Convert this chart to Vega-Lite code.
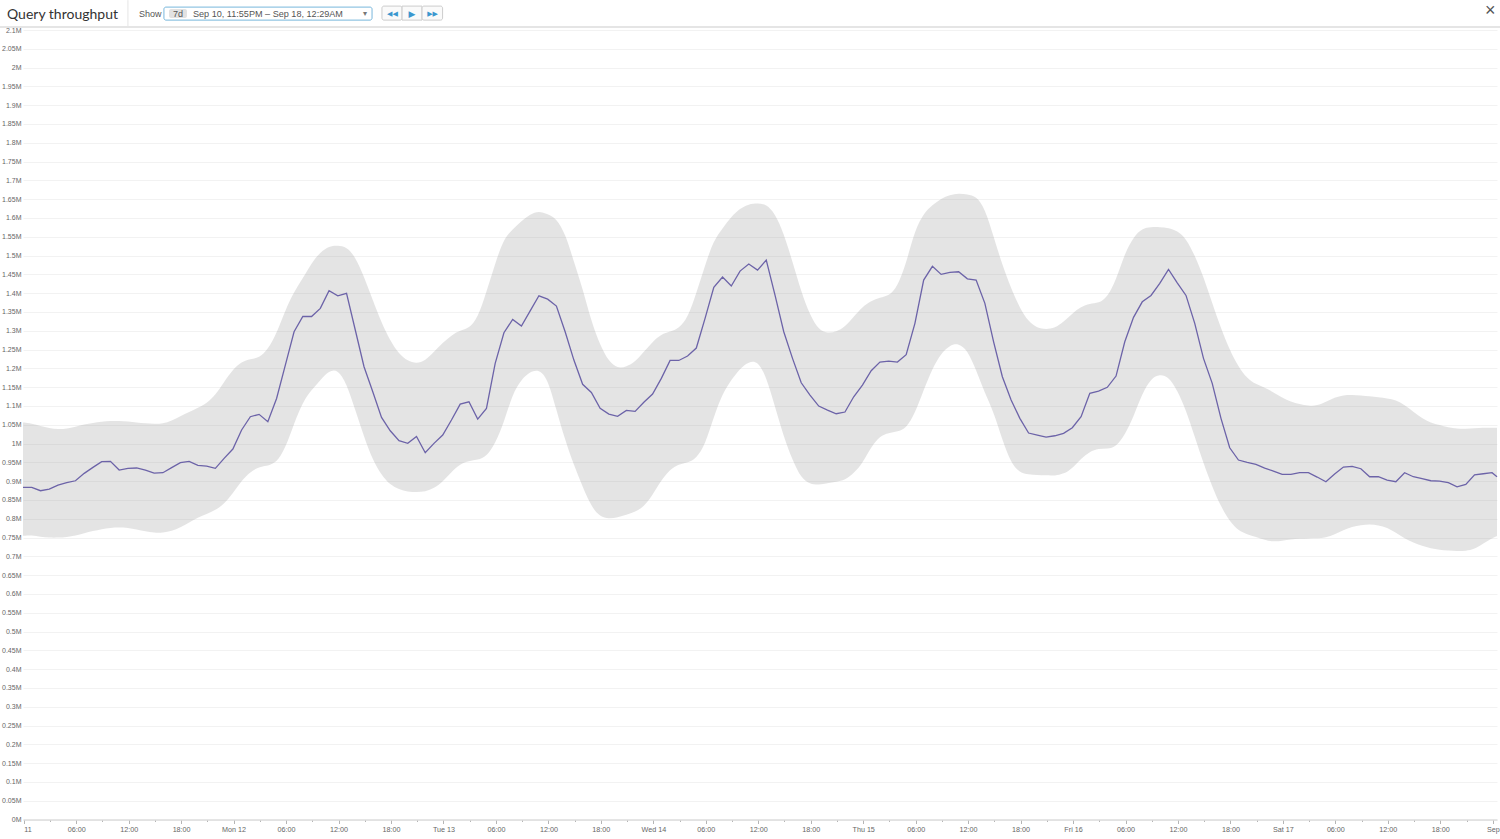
{
"$schema":"https://vega.github.io/schema/vega-lite/v6.json",
"width":1474,"height":789.5,
"autosize":"none",
"padding":{"left":23,"top":30,"right":3,"bottom":19.5},
"background":"#ffffff",
"title":{"text":"Query throughput","anchor":"start","frame":"group","dx":-16,"offset":-22,"fontSize":14,"font":"Lato","fontWeight":"normal","color":"#333333"},
"config":{"view":{"stroke":null},"text":{"font":"Liberation Sans"}},
"resolve":{"axis":{"x":"independent","y":"independent"}},
"datasets":{"metrics":[
{"t":"2016-09-10T23:55","v":883500,"lo":754700,"hi":1056300},
{"t":"2016-09-11T00:55","v":883500,"lo":756600,"hi":1053700},
{"t":"2016-09-11T01:55","v":874500,"lo":752100,"hi":1046500},
{"t":"2016-09-11T02:55","v":879000,"lo":749500,"hi":1041200},
{"t":"2016-09-11T03:55","v":889600,"lo":749500,"hi":1037800},
{"t":"2016-09-11T04:55","v":895800,"lo":751300,"hi":1039400},
{"t":"2016-09-11T05:55","v":901000,"lo":754700,"hi":1044700},
{"t":"2016-09-11T06:55","v":920700,"lo":761200,"hi":1051000},
{"t":"2016-09-11T07:55","v":936600,"lo":767300,"hi":1054500},
{"t":"2016-09-11T08:55","v":951700,"lo":772600,"hi":1058000},
{"t":"2016-09-11T09:55","v":952600,"lo":776100,"hi":1060000},
{"t":"2016-09-11T10:55","v":929500,"lo":777100,"hi":1060600},
{"t":"2016-09-11T11:55","v":934000,"lo":776100,"hi":1059000},
{"t":"2016-09-11T12:55","v":935000,"lo":771800,"hi":1056300},
{"t":"2016-09-11T13:55","v":929000,"lo":766500,"hi":1053700},
{"t":"2016-09-11T14:55","v":921500,"lo":762800,"hi":1052000},
{"t":"2016-09-11T15:55","v":922400,"lo":762800,"hi":1052700},
{"t":"2016-09-11T16:55","v":936000,"lo":767300,"hi":1060600},
{"t":"2016-09-11T17:55","v":949000,"lo":777100,"hi":1073100},
{"t":"2016-09-11T18:55","v":952600,"lo":789400,"hi":1083800},
{"t":"2016-09-11T19:55","v":942000,"lo":803700,"hi":1095200},
{"t":"2016-09-11T20:55","v":940000,"lo":812500,"hi":1106900},
{"t":"2016-09-11T21:55","v":934000,"lo":823100,"hi":1129000},
{"t":"2016-09-11T22:55","v":960600,"lo":839100,"hi":1164300},
{"t":"2016-09-11T23:55","v":985400,"lo":867600,"hi":1197300},
{"t":"2016-09-12T00:55","v":1036000,"lo":901100,"hi":1217600},
{"t":"2016-09-12T01:55","v":1071400,"lo":925000,"hi":1225500},
{"t":"2016-09-12T02:55","v":1077600,"lo":938300,"hi":1227400},
{"t":"2016-09-12T03:55","v":1058000,"lo":941000,"hi":1250000},
{"t":"2016-09-12T04:55","v":1120000,"lo":948900,"hi":1293200},
{"t":"2016-09-12T05:55","v":1208800,"lo":987200,"hi":1355000},
{"t":"2016-09-12T06:55","v":1297400,"lo":1053700,"hi":1403700},
{"t":"2016-09-12T07:55","v":1338000,"lo":1111200,"hi":1439400},
{"t":"2016-09-12T08:55","v":1338000,"lo":1142300,"hi":1480800},
{"t":"2016-09-12T09:55","v":1359500,"lo":1168900,"hi":1508500},
{"t":"2016-09-12T10:55","v":1406500,"lo":1193600,"hi":1525300},
{"t":"2016-09-12T11:55","v":1393000,"lo":1197300,"hi":1527100},
{"t":"2016-09-12T12:55","v":1399500,"lo":1160100,"hi":1523400},
{"t":"2016-09-12T13:55","v":1302000,"lo":1089100,"hi":1496800},
{"t":"2016-09-12T14:55","v":1204300,"lo":1018000,"hi":1443600},
{"t":"2016-09-12T15:55","v":1138000,"lo":956100,"hi":1381600},
{"t":"2016-09-12T16:55","v":1069700,"lo":916200,"hi":1321300},
{"t":"2016-09-12T17:55","v":1034000,"lo":889600,"hi":1273400},
{"t":"2016-09-12T18:55","v":1007500,"lo":878200,"hi":1238000},
{"t":"2016-09-12T19:55","v":1000500,"lo":871800,"hi":1219400},
{"t":"2016-09-12T20:55","v":1019000,"lo":871000,"hi":1212200},
{"t":"2016-09-12T21:55","v":975500,"lo":871800,"hi":1220200},
{"t":"2016-09-12T22:55","v":1000500,"lo":880800,"hi":1244100},
{"t":"2016-09-12T23:55","v":1022600,"lo":898400,"hi":1268000},
{"t":"2016-09-13T00:55","v":1062500,"lo":925000,"hi":1287800},
{"t":"2016-09-13T01:55","v":1105000,"lo":945500,"hi":1301100},
{"t":"2016-09-13T02:55","v":1111000,"lo":954300,"hi":1306400},
{"t":"2016-09-13T03:55","v":1065000,"lo":956100,"hi":1333000},
{"t":"2016-09-13T04:55","v":1093600,"lo":964900,"hi":1403700},
{"t":"2016-09-13T05:55","v":1213300,"lo":1000500,"hi":1479300},
{"t":"2016-09-13T06:55","v":1294700,"lo":1055800,"hi":1545700},
{"t":"2016-09-13T07:55","v":1330000,"lo":1133500,"hi":1569700},
{"t":"2016-09-13T08:55","v":1312500,"lo":1170700,"hi":1591800},
{"t":"2016-09-13T09:55","v":1353000,"lo":1191000,"hi":1610400},
{"t":"2016-09-13T10:55","v":1393000,"lo":1197300,"hi":1619100},
{"t":"2016-09-13T11:55","v":1384000,"lo":1173400,"hi":1610400},
{"t":"2016-09-13T12:55","v":1365700,"lo":1089100,"hi":1598900},
{"t":"2016-09-13T13:55","v":1297400,"lo":1009300,"hi":1559000},
{"t":"2016-09-13T14:55","v":1222000,"lo":942800,"hi":1483500},
{"t":"2016-09-13T15:55","v":1157500,"lo":885100,"hi":1412700},
{"t":"2016-09-13T16:55","v":1136000,"lo":831900,"hi":1323900},
{"t":"2016-09-13T17:55","v":1093600,"lo":805300,"hi":1262000},
{"t":"2016-09-13T18:55","v":1078500,"lo":800000,"hi":1217600},
{"t":"2016-09-13T19:55","v":1072300,"lo":803700,"hi":1200000},
{"t":"2016-09-13T20:55","v":1088000,"lo":810600,"hi":1204300},
{"t":"2016-09-13T21:55","v":1085600,"lo":818600,"hi":1217600},
{"t":"2016-09-13T22:55","v":1110000,"lo":831900,"hi":1244100},
{"t":"2016-09-13T23:55","v":1131600,"lo":863000,"hi":1270700},
{"t":"2016-09-14T00:55","v":1173300,"lo":902900,"hi":1291200},
{"t":"2016-09-14T01:55","v":1221000,"lo":931400,"hi":1297300},
{"t":"2016-09-14T02:55","v":1221000,"lo":945500,"hi":1306400},
{"t":"2016-09-14T03:55","v":1232700,"lo":948900,"hi":1333000},
{"t":"2016-09-14T04:55","v":1254000,"lo":960600,"hi":1399500},
{"t":"2016-09-14T05:55","v":1333000,"lo":996000,"hi":1474700},
{"t":"2016-09-14T06:55","v":1415400,"lo":1071300,"hi":1541200},
{"t":"2016-09-14T07:55","v":1442800,"lo":1133500,"hi":1572300},
{"t":"2016-09-14T08:55","v":1419000,"lo":1168900,"hi":1603200},
{"t":"2016-09-14T09:55","v":1458800,"lo":1200000,"hi":1625500},
{"t":"2016-09-14T10:55","v":1477400,"lo":1217600,"hi":1637000},
{"t":"2016-09-14T11:55","v":1461400,"lo":1220200,"hi":1638800},
{"t":"2016-09-14T12:55","v":1488000,"lo":1177700,"hi":1637000},
{"t":"2016-09-14T13:55","v":1395000,"lo":1097900,"hi":1612200},
{"t":"2016-09-14T14:55","v":1297500,"lo":1018100,"hi":1559000},
{"t":"2016-09-14T15:55","v":1226600,"lo":956100,"hi":1483500},
{"t":"2016-09-14T16:55","v":1161700,"lo":907400,"hi":1403700},
{"t":"2016-09-14T17:55","v":1129000,"lo":892300,"hi":1341800},
{"t":"2016-09-14T18:55","v":1099700,"lo":889600,"hi":1301900},
{"t":"2016-09-14T19:55","v":1089000,"lo":894100,"hi":1293100},
{"t":"2016-09-14T20:55","v":1079300,"lo":898400,"hi":1297300},
{"t":"2016-09-14T21:55","v":1083800,"lo":902900,"hi":1310600},
{"t":"2016-09-14T22:55","v":1124500,"lo":920700,"hi":1337200},
{"t":"2016-09-14T23:55","v":1155600,"lo":947300,"hi":1363800},
{"t":"2016-09-15T00:55","v":1193600,"lo":991500,"hi":1379800},
{"t":"2016-09-15T01:55","v":1216800,"lo":1020000,"hi":1388800},
{"t":"2016-09-15T02:55","v":1219400,"lo":1028700,"hi":1392300},
{"t":"2016-09-15T03:55","v":1216800,"lo":1031400,"hi":1417000},
{"t":"2016-09-15T04:55","v":1236200,"lo":1040400,"hi":1479300},
{"t":"2016-09-15T05:55","v":1319700,"lo":1080300,"hi":1567800},
{"t":"2016-09-15T06:55","v":1434800,"lo":1142300,"hi":1612200},
{"t":"2016-09-15T07:55","v":1471300,"lo":1200000,"hi":1634300},
{"t":"2016-09-15T08:55","v":1450000,"lo":1239900,"hi":1652100},
{"t":"2016-09-15T09:55","v":1455300,"lo":1262000,"hi":1661700},
{"t":"2016-09-15T10:55","v":1457000,"lo":1266500,"hi":1665400},
{"t":"2016-09-15T11:55","v":1438300,"lo":1248700,"hi":1662800},
{"t":"2016-09-15T12:55","v":1434800,"lo":1195500,"hi":1658200},
{"t":"2016-09-15T13:55","v":1372900,"lo":1133500,"hi":1625500},
{"t":"2016-09-15T14:55","v":1270700,"lo":1084600,"hi":1550000},
{"t":"2016-09-15T15:55","v":1177700,"lo":1009300,"hi":1474700},
{"t":"2016-09-15T16:55","v":1115700,"lo":947300,"hi":1412700},
{"t":"2016-09-15T17:55","v":1067000,"lo":922400,"hi":1359600},
{"t":"2016-09-15T18:55","v":1028000,"lo":918100,"hi":1323900},
{"t":"2016-09-15T19:55","v":1022600,"lo":916200,"hi":1307200},
{"t":"2016-09-15T20:55","v":1017300,"lo":915400,"hi":1303700},
{"t":"2016-09-15T21:55","v":1020700,"lo":914400,"hi":1307200},
{"t":"2016-09-15T22:55","v":1027000,"lo":918900,"hi":1323900},
{"t":"2016-09-15T23:55","v":1042000,"lo":934000,"hi":1346300},
{"t":"2016-09-16T00:55","v":1071300,"lo":960600,"hi":1363800},
{"t":"2016-09-16T01:55","v":1133500,"lo":978200,"hi":1372900},
{"t":"2016-09-16T02:55","v":1139600,"lo":987200,"hi":1372900},
{"t":"2016-09-16T03:55","v":1149500,"lo":985400,"hi":1388800},
{"t":"2016-09-16T04:55","v":1179500,"lo":991500,"hi":1434800},
{"t":"2016-09-16T05:55","v":1270700,"lo":1022600,"hi":1505800},
{"t":"2016-09-16T06:55","v":1335700,"lo":1071300,"hi":1550000},
{"t":"2016-09-16T07:55","v":1377000,"lo":1133500,"hi":1572300},
{"t":"2016-09-16T08:55","v":1394000,"lo":1173400,"hi":1575800},
{"t":"2016-09-16T09:55","v":1426000,"lo":1184800,"hi":1575800},
{"t":"2016-09-16T10:55","v":1463300,"lo":1177700,"hi":1574000},
{"t":"2016-09-16T11:55","v":1427600,"lo":1142300,"hi":1566000},
{"t":"2016-09-16T12:55","v":1394000,"lo":1089100,"hi":1545700},
{"t":"2016-09-16T13:55","v":1319700,"lo":1018100,"hi":1501300},
{"t":"2016-09-16T14:55","v":1226600,"lo":947300,"hi":1443600},
{"t":"2016-09-16T15:55","v":1160000,"lo":885100,"hi":1372900},
{"t":"2016-09-16T16:55","v":1067000,"lo":831900,"hi":1306400},
{"t":"2016-09-16T17:55","v":988800,"lo":793000,"hi":1248700},
{"t":"2016-09-16T18:55","v":956100,"lo":768000,"hi":1204300},
{"t":"2016-09-16T19:55","v":950000,"lo":758500,"hi":1173400},
{"t":"2016-09-16T20:55","v":944600,"lo":752100,"hi":1157400},
{"t":"2016-09-16T21:55","v":934900,"lo":743400,"hi":1149500},
{"t":"2016-09-16T22:55","v":926800,"lo":738800,"hi":1136200},
{"t":"2016-09-16T23:55","v":918000,"lo":741500,"hi":1121800},
{"t":"2016-09-17T00:55","v":918000,"lo":745200,"hi":1111200},
{"t":"2016-09-17T01:55","v":922400,"lo":746800,"hi":1105000},
{"t":"2016-09-17T02:55","v":922400,"lo":747900,"hi":1100500},
{"t":"2016-09-17T03:55","v":910900,"lo":747900,"hi":1100500},
{"t":"2016-09-17T04:55","v":898500,"lo":749500,"hi":1111200},
{"t":"2016-09-17T05:55","v":918900,"lo":758500,"hi":1122900},
{"t":"2016-09-17T06:55","v":937500,"lo":769900,"hi":1129000},
{"t":"2016-09-17T07:55","v":939400,"lo":778700,"hi":1129800},
{"t":"2016-09-17T08:55","v":933000,"lo":783200,"hi":1128200},
{"t":"2016-09-17T09:55","v":911700,"lo":785100,"hi":1125500},
{"t":"2016-09-17T10:55","v":911700,"lo":783200,"hi":1123700},
{"t":"2016-09-17T11:55","v":902900,"lo":776100,"hi":1120200},
{"t":"2016-09-17T12:55","v":898500,"lo":762800,"hi":1115700},
{"t":"2016-09-17T13:55","v":922400,"lo":747900,"hi":1102400},
{"t":"2016-09-17T14:55","v":911700,"lo":736200,"hi":1084600},
{"t":"2016-09-17T15:55","v":906400,"lo":727400,"hi":1067000},
{"t":"2016-09-17T16:55","v":901100,"lo":721300,"hi":1055300},
{"t":"2016-09-17T17:55","v":900300,"lo":717600,"hi":1049200},
{"t":"2016-09-17T18:55","v":895800,"lo":714900,"hi":1043100},
{"t":"2016-09-17T19:55","v":885000,"lo":714100,"hi":1039400},
{"t":"2016-09-17T20:55","v":891500,"lo":714100,"hi":1039400},
{"t":"2016-09-17T21:55","v":917000,"lo":718600,"hi":1040400},
{"t":"2016-09-17T22:55","v":919700,"lo":734600,"hi":1042100},
{"t":"2016-09-17T23:55","v":922400,"lo":747900,"hi":1042100},
{"t":"2016-09-18T00:29","v":911700,"lo":754000,"hi":1042100}
]},
"layer":[
{"data":{"name":"metrics"},
 "mark":{"type":"area","interpolate":"basis","fill":"#8c8c8c","opacity":0.23},
 "encoding":{
  "x":{"field":"t","type":"temporal","title":null,
   "scale":{"domain":[{"year":2016,"month":9,"date":10,"hours":23,"minutes":55},{"year":2016,"month":9,"date":18,"hours":0,"minutes":29}],"nice":false},
   "axis":{"values":[
    {"year":2016,"month":9,"date":11,"hours":0},{"year":2016,"month":9,"date":11,"hours":3},{"year":2016,"month":9,"date":11,"hours":6},{"year":2016,"month":9,"date":11,"hours":9},{"year":2016,"month":9,"date":11,"hours":12},{"year":2016,"month":9,"date":11,"hours":15},{"year":2016,"month":9,"date":11,"hours":18},{"year":2016,"month":9,"date":11,"hours":21},
    {"year":2016,"month":9,"date":12,"hours":0},{"year":2016,"month":9,"date":12,"hours":3},{"year":2016,"month":9,"date":12,"hours":6},{"year":2016,"month":9,"date":12,"hours":9},{"year":2016,"month":9,"date":12,"hours":12},{"year":2016,"month":9,"date":12,"hours":15},{"year":2016,"month":9,"date":12,"hours":18},{"year":2016,"month":9,"date":12,"hours":21},
    {"year":2016,"month":9,"date":13,"hours":0},{"year":2016,"month":9,"date":13,"hours":3},{"year":2016,"month":9,"date":13,"hours":6},{"year":2016,"month":9,"date":13,"hours":9},{"year":2016,"month":9,"date":13,"hours":12},{"year":2016,"month":9,"date":13,"hours":15},{"year":2016,"month":9,"date":13,"hours":18},{"year":2016,"month":9,"date":13,"hours":21},
    {"year":2016,"month":9,"date":14,"hours":0},{"year":2016,"month":9,"date":14,"hours":3},{"year":2016,"month":9,"date":14,"hours":6},{"year":2016,"month":9,"date":14,"hours":9},{"year":2016,"month":9,"date":14,"hours":12},{"year":2016,"month":9,"date":14,"hours":15},{"year":2016,"month":9,"date":14,"hours":18},{"year":2016,"month":9,"date":14,"hours":21},
    {"year":2016,"month":9,"date":15,"hours":0},{"year":2016,"month":9,"date":15,"hours":3},{"year":2016,"month":9,"date":15,"hours":6},{"year":2016,"month":9,"date":15,"hours":9},{"year":2016,"month":9,"date":15,"hours":12},{"year":2016,"month":9,"date":15,"hours":15},{"year":2016,"month":9,"date":15,"hours":18},{"year":2016,"month":9,"date":15,"hours":21},
    {"year":2016,"month":9,"date":16,"hours":0},{"year":2016,"month":9,"date":16,"hours":3},{"year":2016,"month":9,"date":16,"hours":6},{"year":2016,"month":9,"date":16,"hours":9},{"year":2016,"month":9,"date":16,"hours":12},{"year":2016,"month":9,"date":16,"hours":15},{"year":2016,"month":9,"date":16,"hours":18},{"year":2016,"month":9,"date":16,"hours":21},
    {"year":2016,"month":9,"date":17,"hours":0},{"year":2016,"month":9,"date":17,"hours":3},{"year":2016,"month":9,"date":17,"hours":6},{"year":2016,"month":9,"date":17,"hours":9},{"year":2016,"month":9,"date":17,"hours":12},{"year":2016,"month":9,"date":17,"hours":15},{"year":2016,"month":9,"date":17,"hours":18},{"year":2016,"month":9,"date":17,"hours":21},
    {"year":2016,"month":9,"date":18,"hours":0}],
    "grid":false,"domainColor":"#dcdcdc","domainWidth":1.5,
    "tickColor":"#b5b5b5","tickSize":{"condition":{"test":"hours(datum.value)%6==0","value":4},"value":2},"tickWidth":1,
    "labelFont":"Liberation Sans","labelFontSize":7.2,"labelColor":"#666666","labelPadding":2,"labelAngle":0,"labelOverlap":false,
    "labelExpr":"timeFormat(datum.value,'%m-%d %H')=='09-11 00'?'\u00a0\u00a0\u00a0\u00a011':timeFormat(datum.value,'%m-%d %H')=='09-18 00'?'Sep\u00a0\u00a0\u00a0\u00a0\u00a0\u00a0':hours(datum.value)==0?timeFormat(datum.value,'%a %-d'):hours(datum.value)%6==0?timeFormat(datum.value,'%H:%M'):''"}},
  "y":{"field":"lo","type":"quantitative","title":null,
   "scale":{"domain":[0,2100000],"nice":false},
   "axis":{"values":[0,50000,100000,150000,200000,250000,300000,350000,400000,450000,500000,550000,600000,650000,700000,750000,800000,850000,900000,950000,1000000,1050000,1100000,1150000,1200000,1250000,1300000,1350000,1400000,1450000,1500000,1550000,1600000,1650000,1700000,1750000,1800000,1850000,1900000,1950000,2000000,2050000,2100000],
    "labelExpr":"datum.value/1000000+'M'","domain":false,"ticks":false,"grid":true,"gridColor":"#f2f2f2","gridWidth":1,
    "labelFont":"Liberation Sans","labelFontSize":7,"labelColor":"#666666","labelPadding":2,"labelOverlap":false}},
  "y2":{"field":"hi"}}},
{"data":{"name":"metrics"},
 "mark":{"type":"line","stroke":"#6c63a8","strokeWidth":1.3},
 "encoding":{"x":{"field":"t","type":"temporal","axis":null},"y":{"field":"v","type":"quantitative","axis":null}}},
{"data":{"values":[{}]},"mark":{"type":"rule","stroke":"#dddddd","strokeWidth":1.5},
 "encoding":{"x":{"datum":{"year":2016,"month":9,"date":10,"hours":23,"minutes":-158},"type":"temporal","axis":null},"x2":{"datum":{"year":2016,"month":9,"date":10,"hours":23,"minutes":10200}},"y":{"datum":2107700,"type":"quantitative","axis":null}}},
{"data":{"values":[{}]},"mark":{"type":"rule","stroke":"#e6e6e6","strokeWidth":1},
 "encoding":{"x":{"datum":{"year":2016,"month":9,"date":10,"hours":23,"minutes":775},"type":"temporal","axis":null},"y":{"datum":2179500,"type":"quantitative","axis":null},"y2":{"datum":2107700}}},
{"data":{"values":[{}]},"mark":{"type":"text","text":"Show","align":"left","baseline":"middle","fontSize":9,"color":"#555555"},
 "encoding":{"x":{"datum":{"year":2016,"month":9,"date":10,"hours":23,"minutes":851},"type":"temporal","axis":null},"y":{"datum":2142300,"type":"quantitative","axis":null}}},
{"data":{"values":[{}]},"mark":{"type":"rect","fill":"#ffffff","stroke":"#78b7dc","strokeWidth":1,"cornerRadius":2},
 "encoding":{"x":{"datum":{"year":2016,"month":9,"date":10,"hours":23,"minutes":1022},"type":"temporal","axis":null},"x2":{"datum":{"year":2016,"month":9,"date":10,"hours":23,"minutes":2450}},"y":{"datum":2160900,"type":"quantitative","axis":null},"y2":{"datum":2126300}}},
{"data":{"values":[{}]},"mark":{"type":"rect","fill":"#e2e2e2","cornerRadius":2},
 "encoding":{"x":{"datum":{"year":2016,"month":9,"date":10,"hours":23,"minutes":1057},"type":"temporal","axis":null},"x2":{"datum":{"year":2016,"month":9,"date":10,"hours":23,"minutes":1180}},"y":{"datum":2155600,"type":"quantitative","axis":null},"y2":{"datum":2131600}}},
{"data":{"values":[{}]},"mark":{"type":"text","text":"7d","align":"center","baseline":"middle","fontSize":9,"color":"#555555"},
 "encoding":{"x":{"datum":{"year":2016,"month":9,"date":10,"hours":23,"minutes":1119},"type":"temporal","axis":null},"y":{"datum":2142300,"type":"quantitative","axis":null}}},
{"data":{"values":[{}]},"mark":{"type":"text","text":"Sep 10, 11:55PM – Sep 18, 12:29AM","align":"left","baseline":"middle","fontSize":9.1,"color":"#555555"},
 "encoding":{"x":{"datum":{"year":2016,"month":9,"date":10,"hours":23,"minutes":1221},"type":"temporal","axis":null},"y":{"datum":2142300,"type":"quantitative","axis":null}}},
{"data":{"values":[{}]},"mark":{"type":"text","text":"▾","align":"center","baseline":"middle","fontSize":8,"font":"DejaVu Sans","color":"#777777"},
 "encoding":{"x":{"datum":{"year":2016,"month":9,"date":10,"hours":23,"minutes":2402},"type":"temporal","axis":null},"y":{"datum":2142300,"type":"quantitative","axis":null}}},
{"data":{"values":[{}]},"mark":{"type":"rect","fill":"#fafafa","stroke":"#cccccc","strokeWidth":1,"cornerRadius":2},
 "encoding":{"x":{"datum":{"year":2016,"month":9,"date":10,"hours":23,"minutes":2518},"type":"temporal","axis":null},"x2":{"datum":{"year":2016,"month":9,"date":10,"hours":23,"minutes":2656}},"y":{"datum":2163600,"type":"quantitative","axis":null},"y2":{"datum":2126300}}},
{"data":{"values":[{}]},"mark":{"type":"rect","fill":"#fafafa","stroke":"#cccccc","strokeWidth":1},
 "encoding":{"x":{"datum":{"year":2016,"month":9,"date":10,"hours":23,"minutes":2656},"type":"temporal","axis":null},"x2":{"datum":{"year":2016,"month":9,"date":10,"hours":23,"minutes":2793}},"y":{"datum":2163600,"type":"quantitative","axis":null},"y2":{"datum":2126300}}},
{"data":{"values":[{}]},"mark":{"type":"rect","fill":"#fafafa","stroke":"#cccccc","strokeWidth":1,"cornerRadius":2},
 "encoding":{"x":{"datum":{"year":2016,"month":9,"date":10,"hours":23,"minutes":2793},"type":"temporal","axis":null},"x2":{"datum":{"year":2016,"month":9,"date":10,"hours":23,"minutes":2934}},"y":{"datum":2163600,"type":"quantitative","axis":null},"y2":{"datum":2126300}}},
{"data":{"values":[{}]},"mark":{"type":"text","text":"◀◀","align":"center","baseline":"middle","fontSize":7,"font":"DejaVu Sans","color":"#3b97cf"},
 "encoding":{"x":{"datum":{"year":2016,"month":9,"date":10,"hours":23,"minutes":2590},"type":"temporal","axis":null},"y":{"datum":2142300,"type":"quantitative","axis":null}}},
{"data":{"values":[{}]},"mark":{"type":"text","text":"▶","align":"center","baseline":"middle","fontSize":9,"font":"DejaVu Sans","color":"#3b97cf"},
 "encoding":{"x":{"datum":{"year":2016,"month":9,"date":10,"hours":23,"minutes":2724},"type":"temporal","axis":null},"y":{"datum":2142300,"type":"quantitative","axis":null}}},
{"data":{"values":[{}]},"mark":{"type":"text","text":"▶▶","align":"center","baseline":"middle","fontSize":7,"font":"DejaVu Sans","color":"#3b97cf"},
 "encoding":{"x":{"datum":{"year":2016,"month":9,"date":10,"hours":23,"minutes":2865},"type":"temporal","axis":null},"y":{"datum":2142300,"type":"quantitative","axis":null}}},
{"data":{"values":[{}]},"mark":{"type":"text","text":"×","align":"center","baseline":"middle","fontSize":18,"color":"#555555"},
 "encoding":{"x":{"datum":{"year":2016,"month":9,"date":10,"hours":23,"minutes":10122},"type":"temporal","axis":null},"y":{"datum":2150000,"type":"quantitative","axis":null}}}
]
}
